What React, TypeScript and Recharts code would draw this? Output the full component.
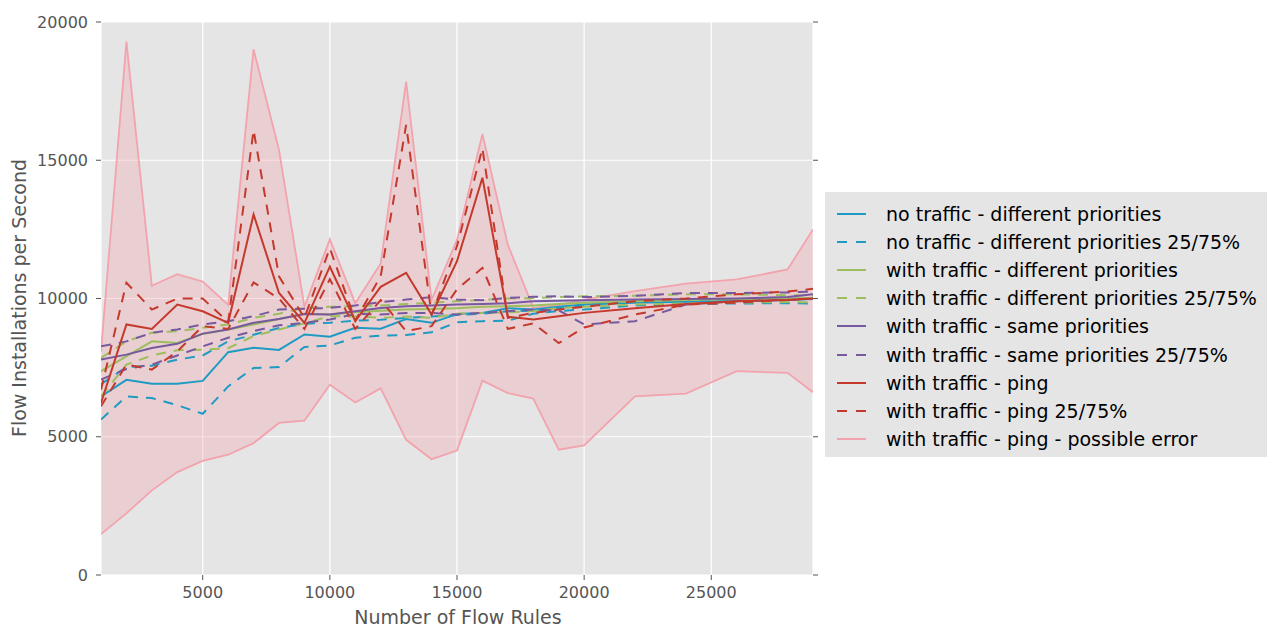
import {
  ComposedChart,
  Line,
  Area,
  XAxis,
  YAxis,
  CartesianGrid,
} from "recharts";

// number of flow rules (x)
const flowRules = [
  1000, 2000, 3000, 4000, 5000, 6000, 7000, 8000, 9000, 10000, 11000, 12000,
  13000, 14000, 15000, 16000, 17000, 18000, 19000, 20000, 22000, 24000, 26000,
  28000, 29000,
];

// no traffic - different priorities
const noTrafficDiff = [
  6460, 7060, 6920, 6920, 7020, 8060, 8220, 8140, 8700, 8620, 8940, 8910, 9260,
  9120, 9440, 9480, 9650, 9600, 9700, 9780, 9850, 9880, 9910, 9950, 9980,
];
const noTrafficDiffLo = [
  5620, 6460, 6400, 6140, 5830, 6820, 7490, 7520, 8250, 8300, 8580, 8660, 8680,
  8780, 9140, 9180, 9200, 9450, 9550, 9600, 9750, 9800, 9820, 9830, 9820,
];
const noTrafficDiffHi = [
  6900, 7520, 7570, 7790, 7940, 8450, 8690, 8930, 9090, 9120, 9200, 9230, 9300,
  9350, 9400, 9450, 9540, 9560, 9650, 9750, 9880, 9900, 9950, 9980, 10000,
];

// with traffic - different priorities
const trafficDiff = [
  7370, 7910, 8450, 8390, 8720, 8880, 9060, 9260, 9450, 9420, 9500, 9560, 9600,
  9620, 9650, 9700, 9720, 9750, 9800, 9850, 9900, 9950, 9980, 10000, 10020,
];
const trafficDiffLo = [
  6460, 7610, 7940, 8130, 8150, 8200, 8640, 8880, 9100, 9360, 9350, 9300, 9350,
  9300, 9450, 9480, 9500, 9550, 9650, 9700, 9780, 9820, 9850, 9870, 9860,
];
const trafficDiffHi = [
  7850, 8450, 8760, 8820, 8940, 9060, 9300, 9450, 9660, 9700, 9720, 9750, 9800,
  9850, 9900, 9950, 10000, 10020, 10050, 10080, 10100, 10150, 10150, 10120,
  10100,
];

// with traffic - same priorities
const trafficSame = [
  7790, 7970, 8210, 8360, 8730, 8880, 9120, 9260, 9440, 9420, 9540, 9660, 9720,
  9750, 9780, 9800, 9830, 9900, 9920, 9940, 9960, 9980, 10000, 10050, 10150,
];
const trafficSameLo = [
  7070, 7450, 7610, 7940, 8270, 8580, 8820, 9030, 9120, 9240, 9440, 9420, 9480,
  9480, 9420, 9480, 9540, 9600, 9570, 9060, 9180, 9780, 9900, 9950, 10000,
];
const trafficSameHi = [
  8270, 8450, 8760, 8880, 9060, 9180, 9360, 9600, 9630, 9660, 9750, 9870, 9960,
  10050, 9960, 9940, 10020, 10060, 10080, 10050, 10100, 10200, 10200, 10220,
  10250,
];

// with traffic - ping
const ping = [
  6220, 9060, 8900, 9780, 9540, 9120, 13040, 10200, 9120, 11150, 9180, 10420,
  10930, 9420, 11350, 14370, 9340, 9240, 9360, 9480, 9650, 9800, 9900, 9950,
  10000,
];
const pingLo = [
  6100, 7610, 7430, 8090, 9000, 8900, 10580, 10000, 8900, 10700, 8900, 9940,
  8820, 9000, 10330, 11110, 8900, 9100, 8390, 8950, 9420, 9780, 9850, 9950,
  10000,
];
const pingHi = [
  6700, 10570, 9600, 10000, 10000, 9150, 16090, 10800, 9300, 11820, 9200,
  10810, 16280, 9400, 11900, 15430, 9300, 9480, 9600, 9700, 9900, 10000, 10150,
  10250, 10350,
];

// with traffic - ping - possible error
const errLo = [
  1480, 2230, 3060, 3720, 4130, 4350, 4770, 5500, 5580, 6880, 6240, 6750, 4890,
  4190, 4500, 7030, 6580, 6380, 4530, 4690, 6460, 6560, 7370, 7310, 6610,
];
const errHi = [
  8080, 19290, 10460, 10880, 10610, 9770, 19010, 15370, 9700, 12140, 9830,
  11270, 17840, 9950, 12120, 15950, 11940, 9660, 9760, 9960, 10270, 10540,
  10690, 11050, 12500,
];

const xTicks = [5000, 10000, 15000, 20000, 25000];
const yTicks = [0, 5000, 10000, 15000, 20000];

const CYAN = "#1f9bc3";
const GREEN = "#9dbd5e";
const PURPLE = "#77599f";
const RED = "#c4392c";
const PINK = "#f2a3ad";
const DASH = "10 8";
const FONT = "DejaVu Sans";

const data = flowRules.map((x, i) => ({
  x,
  ntd: noTrafficDiff[i],
  ntdLo: noTrafficDiffLo[i],
  ntdHi: noTrafficDiffHi[i],
  wtd: trafficDiff[i],
  wtdLo: trafficDiffLo[i],
  wtdHi: trafficDiffHi[i],
  wts: trafficSame[i],
  wtsLo: trafficSameLo[i],
  wtsHi: trafficSameHi[i],
  ping: ping[i],
  pingLo: pingLo[i],
  pingHi: pingHi[i],
  errLo: errLo[i],
  errHi: errHi[i],
  band: [errLo[i], errHi[i]],
}));

const lines = [
  { keys: ["ntd"], name: "no traffic - different priorities", color: CYAN, dashed: false },
  { keys: ["ntdLo", "ntdHi"], name: "no traffic - different priorities 25/75%", color: CYAN, dashed: true },
  { keys: ["wtd"], name: "with traffic - different priorities", color: GREEN, dashed: false },
  { keys: ["wtdLo", "wtdHi"], name: "with traffic - different priorities 25/75%", color: GREEN, dashed: true },
  { keys: ["wts"], name: "with traffic - same priorities", color: PURPLE, dashed: false },
  { keys: ["wtsLo", "wtsHi"], name: "with traffic - same priorities 25/75%", color: PURPLE, dashed: true },
  { keys: ["ping"], name: "with traffic - ping", color: RED, dashed: false },
  { keys: ["pingLo", "pingHi"], name: "with traffic - ping 25/75%", color: RED, dashed: true },
];

const legendItems = [
  ...lines.map((l) => ({ name: l.name, color: l.color, dashed: l.dashed })),
  { name: "with traffic - ping - possible error", color: PINK, dashed: false },
];

const tickStyle = { fill: "#555", fontSize: 16, fontFamily: FONT };
const noLabel = () => <g />;

export default function App() {
  return (
    <div style={{ position: "absolute", left: 0, top: 0, width: 1271, height: 628 }}>
      <ComposedChart
        width={1271}
        height={628}
        data={data}
        margin={{ top: 12, right: 448, bottom: 0, left: 0 }}
      >
        <CartesianGrid stroke="#fff" strokeWidth={1.2} fill="#e5e5e5" />
        <XAxis
          dataKey="x"
          type="number"
          domain={[1000, 29000]}
          ticks={xTicks}
          allowDataOverflow
          height={53}
          axisLine={false}
          tickLine={{ stroke: "#555" }}
          tickSize={5}
          tickMargin={7}
          tick={tickStyle}
          label={() => (
            <text
              x={458}
              y={624}
              textAnchor="middle"
              fill="#555"
              fontSize={19}
              fontFamily={FONT}
            >
              Number of Flow Rules
            </text>
          )}
        />
        <XAxis
          xAxisId="top"
          orientation="top"
          type="number"
          domain={[1000, 29000]}
          ticks={xTicks}
          allowDataOverflow
          height={10}
          axisLine={false}
          tickLine={{ stroke: "#555" }}
          tickSize={5}
          tick={noLabel}
        />
        <YAxis
          type="number"
          domain={[0, 20000]}
          ticks={yTicks}
          allowDataOverflow
          width={101}
          axisLine={false}
          tickLine={{ stroke: "#555" }}
          tickSize={5}
          tickMargin={8}
          tick={tickStyle}
          label={() => (
            <text
              x={26}
              y={298}
              transform="rotate(-90 26 298)"
              textAnchor="middle"
              fill="#555"
              fontSize={19}
              fontFamily={FONT}
            >
              Flow Installations per Second
            </text>
          )}
        />
        <YAxis
          yAxisId="right"
          orientation="right"
          type="number"
          domain={[0, 20000]}
          ticks={yTicks}
          allowDataOverflow
          width={10}
          axisLine={false}
          tickLine={{ stroke: "#555" }}
          tickSize={5}
          tick={noLabel}
        />
        <Area
          dataKey="band"
          type="linear"
          stroke="none"
          fill={PINK}
          fillOpacity={0.34}
          isAnimationActive={false}
        />
        <Line dataKey="errLo" type="linear" stroke={PINK} strokeWidth={1.8} dot={false} isAnimationActive={false} />
        <Line dataKey="errHi" type="linear" stroke={PINK} strokeWidth={1.8} dot={false} isAnimationActive={false} />
        {lines.flatMap((l) =>
          l.keys.map((k) => (
            <Line
              key={k}
              dataKey={k}
              name={l.name}
              type="linear"
              stroke={l.color}
              strokeWidth={2}
              strokeDasharray={l.dashed ? DASH : undefined}
              dot={false}
              isAnimationActive={false}
            />
          ))
        )}
      </ComposedChart>
      <div
        style={{
          position: "absolute",
          left: 825,
          top: 192,
          width: 442,
          height: 265,
          background: "#e5e5e5",
          boxSizing: "border-box",
          paddingTop: 8,
          fontFamily: FONT,
          fontSize: 19,
          color: "#000",
        }}
      >
        {legendItems.map((it) => (
          <div
            key={it.name}
            style={{ height: 28.1, display: "flex", alignItems: "center", whiteSpace: "nowrap" }}
          >
            <svg width={49} height={10} style={{ marginLeft: 12, flex: "none" }}>
              <line
                x1={0}
                y1={5}
                x2={29}
                y2={5}
                stroke={it.color}
                strokeWidth={2}
                strokeDasharray={it.dashed ? "10 9" : undefined}
              />
            </svg>
            <span>{it.name}</span>
          </div>
        ))}
      </div>
    </div>
  );
}
